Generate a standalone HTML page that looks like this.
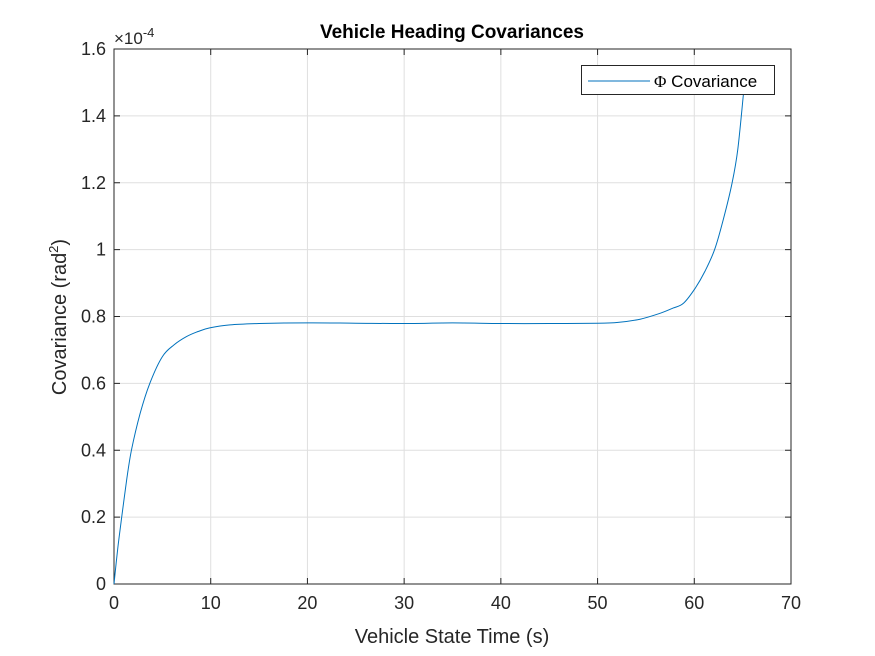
<!DOCTYPE html>
<html><head><meta charset="utf-8"><style>
body{margin:0;background:#fff;}
svg{display:block;font-family:"Liberation Sans",sans-serif;}
</style></head><body>
<svg width="875" height="656">
<g id="grid"></g>
<g id="axes"></g>
<path id="line" fill="none" stroke="#0072BD" stroke-width="1"/>
<text x="452" y="38" text-anchor="middle" font-size="19" font-weight="bold" fill="#000">Vehicle Heading Covariances</text>
<text x="452" y="643" text-anchor="middle" font-size="20" fill="#262626">Vehicle State Time (s)</text>
<text transform="translate(66,317) rotate(-90)" text-anchor="middle" font-size="20" fill="#262626">Covariance (rad<tspan font-size="13" dy="-8">2</tspan><tspan dy="8">)</tspan></text>
<text x="114" y="44" font-size="17" fill="#262626">×10<tspan font-size="13" dy="-7">-4</tspan></text>
<g>
<rect x="581.5" y="65.5" width="193" height="29" fill="#fff" stroke="#262626" stroke-width="1"/>
<line x1="588" y1="81" x2="650" y2="81" stroke="#0072BD" stroke-width="1"/>
<text x="654" y="87" font-size="17" fill="#000"><tspan font-family="Liberation Serif">Φ</tspan> Covariance</text>
</g>
</svg>
<script>
const xTicks=[0,10,20,30,40,50,60,70];
const yTicks=[0,0.2,0.4,0.6,0.8,1,1.2,1.4,1.6];
const yTickLabels=["0","0.2","0.4","0.6","0.8","1","1.2","1.4","1.6"];
const times=[0,0.4,0.8,1.3,1.8,2.7,3.7,5,6.2,7.5,8.7,9.9,12,15,20,25,30,35,40,45,50,52,54.4,56.5,57.8,58.9,60.1,61.1,62.1,63,63.9,64.5,65.1];
const covariance=[0,0.11,0.2,0.31,0.4,0.51,0.6,0.68,0.715,0.74,0.755,0.766,0.775,0.779,0.781,0.78,0.779,0.781,0.779,0.779,0.78,0.782,0.792,0.81,0.825,0.84,0.885,0.935,1.0,1.09,1.198,1.3,1.47];
const L=114,R=791,T=49,B=584;
const sx=v=>L+(v-0)/(70-0)*(R-L);
const sy=v=>B-(v-0)/(1.6-0)*(B-T);
const NS="http://www.w3.org/2000/svg";
const grid=document.getElementById('grid'),axes=document.getElementById('axes');
function mk(tag,attrs,parent){const e=document.createElementNS(NS,tag);for(const k in attrs)e.setAttribute(k,attrs[k]);parent.appendChild(e);return e;}
xTicks.forEach(t=>{const x=sx(t);
 const g=mk('line',{x1:x,x2:x,y1:T,y2:B,stroke:'#dfdfdf','stroke-width':1},grid);
 
 
 mk('line',{x1:x,x2:x,y1:B,y2:B-6,stroke:'#262626'},axes);
 mk('line',{x1:x,x2:x,y1:T,y2:T+6,stroke:'#262626'},axes);
 const tx=mk('text',{x:x,y:B+25,'text-anchor':'middle','font-size':18,fill:'#262626'},axes);
 tx.textContent=t;
 
 
});
yTicks.forEach((t,i)=>{const y=sy(t);
 const g=mk('line',{x1:L,x2:R,y1:y,y2:y,stroke:'#dfdfdf','stroke-width':1},grid);
 
 
 mk('line',{x1:L,x2:L+6,y1:y,y2:y,stroke:'#262626'},axes);
 mk('line',{x1:R,x2:R-6,y1:y,y2:y,stroke:'#262626'},axes);
 const tx=mk('text',{x:L-8,y:y+6,'text-anchor':'end','font-size':18,fill:'#262626'},axes);
 tx.textContent=yTickLabels[i];
 
 
});
mk('rect',{x:L,y:T,width:R-L,height:B-T,fill:'none',stroke:'#262626','stroke-width':1},axes);
const P=times.map((t,i)=>[sx(t),sy(covariance[i])]);
let d='M'+P[0][0].toFixed(1)+','+P[0][1].toFixed(1);
for(let i=0;i<P.length-1;i++){
 const p0=P[Math.max(i-1,0)],p1=P[i],p2=P[i+1],p3=P[Math.min(i+2,P.length-1)];
 const c1=[p1[0]+(p2[0]-p0[0])/6,p1[1]+(p2[1]-p0[1])/6];
 const c2=[p2[0]-(p3[0]-p1[0])/6,p2[1]-(p3[1]-p1[1])/6];
 d+='C'+c1.map(v=>v.toFixed(1)).join(',')+' '+c2.map(v=>v.toFixed(1)).join(',')+' '+p2.map(v=>v.toFixed(1)).join(',');
}
document.getElementById('line').setAttribute('d',d);
</script>
</body></html>
